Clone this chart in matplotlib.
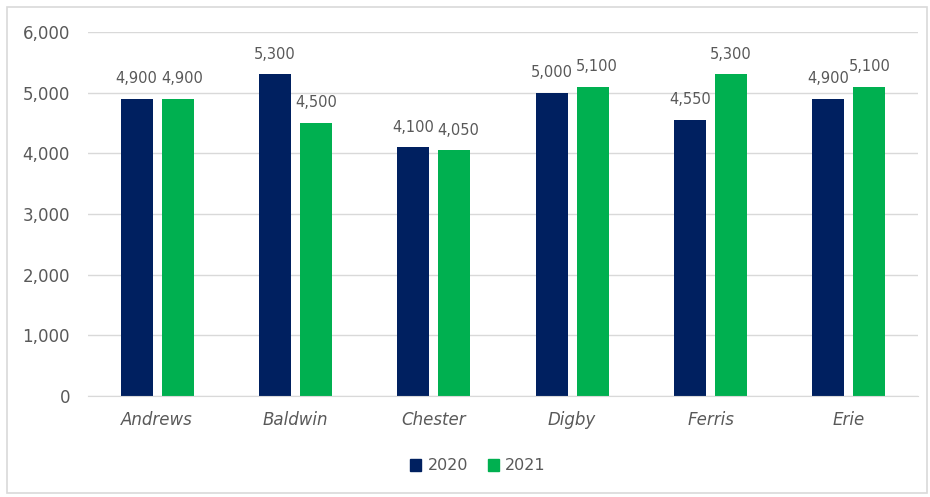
import numpy as np
import matplotlib.pyplot as plt
from matplotlib.patches import Rectangle, Patch

plt.rc('font', family='DejaVu Sans')

teams = ['Andrews', 'Baldwin', 'Chester', 'Digby', 'Ferris', 'Erie']
sales_2020 = [4900, 5300, 4100, 5000, 4550, 4900]
sales_2021 = [4900, 4500, 4050, 5100, 5300, 5100]
yticks = [0, 1000, 2000, 3000, 4000, 5000, 6000]

navy = '#002060'
green = '#00B050'
grey = '#595959'
light = '#D9D9D9'

fig = plt.figure(figsize=(9.3, 4.97), dpi=100)
ax = fig.add_axes([88/930, 1-396/497, 830/930, 364/497])

x = np.arange(len(teams))
w = 0.232
off = 0.148
b1 = ax.bar(x - off, sales_2020, w, color=navy, label='2020', zorder=3)
b2 = ax.bar(x + off, sales_2021, w, color=green, label='2021', zorder=3)

# value labels; push the 2021 label right a little when both labels sit level
for r, v in zip(b1, sales_2020):
    ax.annotate(f'{v:,}', (r.get_x() + r.get_width()/2, v),
                xytext=(0, 14.5), textcoords='offset points',
                ha='center', va='center', fontsize=10.5, color=grey)
for r, v, v0 in zip(b2, sales_2021, sales_2020):
    dx = 3 if abs(v - v0) <= 100 else 0
    ax.annotate(f'{v:,}', (r.get_x() + r.get_width()/2, v),
                xytext=(dx, 14.5), textcoords='offset points',
                ha='center', va='center', fontsize=10.5, color=grey)

ax.set_xlim(-0.5, len(teams) - 0.5)
ax.set_ylim(0, 6000)
ax.set_yticks(yticks)
ax.set_yticklabels([f'{t:,}' for t in yticks])
ax.set_xticks(x)
ax.set_xticklabels(teams, style='italic')
ax.tick_params(axis='y', length=0, pad=13, labelsize=12, labelcolor=grey)
ax.tick_params(axis='x', length=0, pad=11, labelsize=12, labelcolor=grey)
ax.grid(axis='y', color=light, linewidth=1, zorder=0)
for s in ('left', 'right', 'top'):
    ax.spines[s].set_visible(False)
ax.spines['bottom'].set_color(light)
ax.spines['bottom'].set_zorder(4)

handles = [Patch(color=navy, label='2020'), Patch(color=green, label='2021')]
fig.legend(handles=handles, loc='center', bbox_to_anchor=(478/930, 1-466/497),
           ncol=2, frameon=False, fontsize=11.5, labelcolor=grey,
           handlelength=0.7, handleheight=0.7, handletextpad=0.4, columnspacing=1.2)

fig.patches.append(Rectangle((7/930, 4/497), 920/930, 486/497, transform=fig.transFigure,
                             fill=False, edgecolor=light, linewidth=1.2))

fig.savefig('out.png', dpi=100)
